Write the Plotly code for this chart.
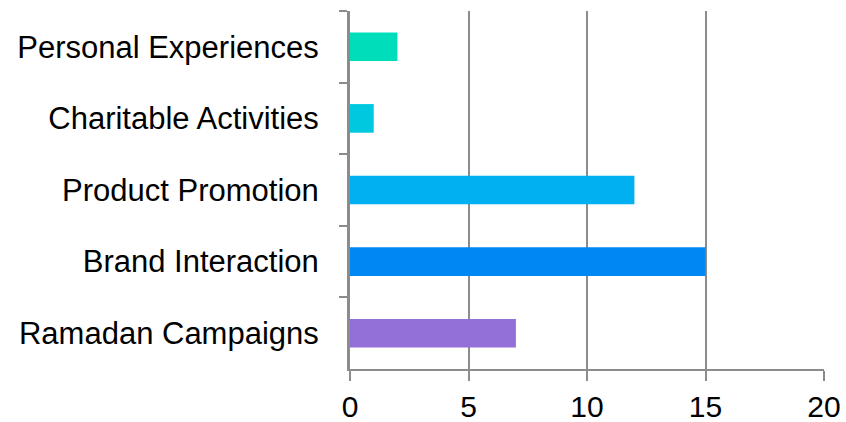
import plotly.graph_objects as go

# Content themes and number of posts per theme (top to bottom)
categories = [
    "Personal Experiences",
    "Charitable Activities",
    "Product Promotion",
    "Brand Interaction",
    "Ramadan Campaigns",
]
values = [2, 1, 12, 15, 7]
bar_colors = ["#00DDBB", "#00C8DE", "#00B0F0", "#0088F2", "#9370D8"]
x_ticks = [0, 5, 10, 15, 20]

axis_gray = "#8C8C8C"
font_family = "Liberation Sans, Arial, sans-serif"

fig = go.Figure(
    go.Bar(
        x=values,
        y=categories,
        orientation="h",
        marker=dict(color=bar_colors, line=dict(width=0)),
        width=0.4,
    )
)

fig.update_layout(
    width=846,
    height=422,
    margin=dict(l=350, r=22, t=11, b=53),
    paper_bgcolor="white",
    plot_bgcolor="white",
    showlegend=False,
    font=dict(family=font_family, size=31, color="black"),
)

fig.update_xaxes(
    range=[0, 20],
    tickvals=x_ticks,
    ticktext=[str(t) for t in x_ticks],
    automargin=False,
    showgrid=True,
    gridcolor=axis_gray,
    gridwidth=2,
    zeroline=False,
    showline=True,
    linecolor=axis_gray,
    linewidth=2,
    ticks="outside",
    ticklen=10,
    tickwidth=2,
    tickcolor=axis_gray,
    tickfont=dict(size=30),
)

fig.update_yaxes(
    categoryorder="array",
    categoryarray=categories,
    autorange="reversed",
    automargin=False,
    showgrid=False,
    zeroline=False,
    showline=True,
    linecolor=axis_gray,
    linewidth=3,
    ticks="outside",
    tickson="boundaries",
    ticklen=8,
    tickwidth=2,
    tickcolor=axis_gray,
    tickfont=dict(size=31),
    ticklabelstandoff=22,
)

fig.write_html("out.html")
